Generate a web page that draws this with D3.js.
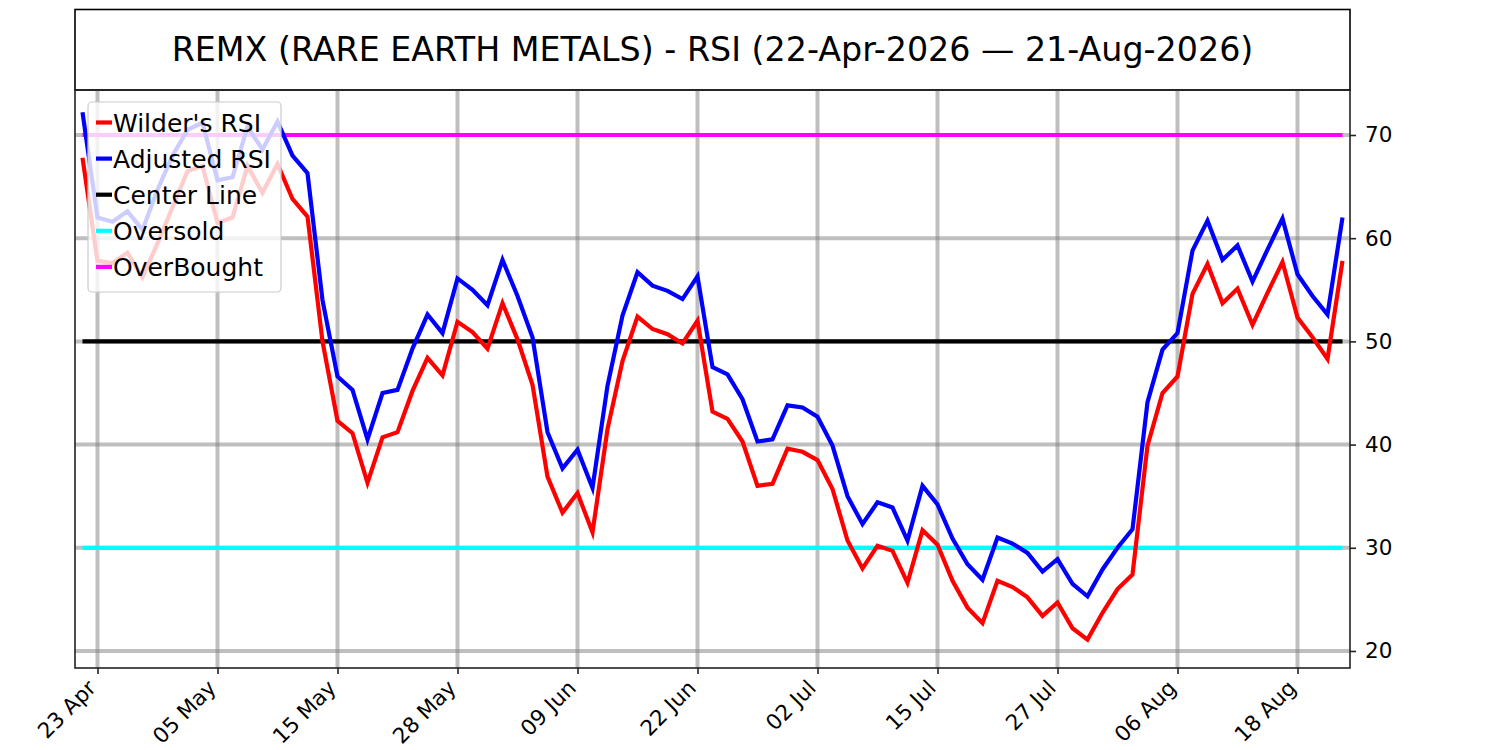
<!DOCTYPE html>
<html>
<head>
<meta charset="utf-8">
<script src="https://cdn.jsdelivr.net/npm/d3@7"></script>
<style>
  body { margin: 0; background: #fff; }
  svg { font-family: "DejaVu Sans", sans-serif; }
</style>
</head>
<body>
<svg id="chart" width="1500" height="750"></svg>
<script>
// ======== Data ========
const titleText = 'REMX (RARE EARTH METALS) - RSI (22-Apr-2026 \u2014 21-Aug-2026)';

// trading day index -> tick label
const tickIndex = [1, 9, 17, 25, 33, 41, 49, 57, 65, 73, 81];
const tickLabels = ['23 Apr', '05 May', '15 May', '28 May', '09 Jun', '22 Jun',
    '02 Jul', '15 Jul', '27 Jul', '06 Aug', '18 Aug'];
const yTicks = [20, 30, 40, 50, 60, 70];

const wildersRsi = [67.8, 57.8, 57.6, 58.6, 56.2, 59.5, 63.0, 66.5, 67.0, 61.5,
    62.0, 67.0, 64.4, 67.2, 63.8, 62.1, 50.0, 42.3, 41.1, 36.3,
    40.7, 41.2, 45.2, 48.4, 46.7, 51.9, 50.9, 49.3, 53.7, 50.2,
    45.8, 36.9, 33.4, 35.3, 31.5, 41.5, 48.1, 52.4, 51.2, 50.7,
    49.8, 52.0, 43.2, 42.5, 40.3, 36.0, 36.2, 39.6, 39.3, 38.5,
    35.7, 30.7, 28.0, 30.2, 29.7, 26.6, 31.7, 30.3, 26.8, 24.2,
    22.7, 26.8, 26.2, 25.2, 23.4, 24.7, 22.2, 21.1, 23.7, 26.0,
    27.4, 39.9, 45.0, 46.6, 54.6, 57.5, 53.7, 55.1, 51.6, 54.7,
    57.7, 52.3, 50.4, 48.3, 57.8];

const adjustedRsi = [72.2, 62.0, 61.6, 62.6, 60.8, 64.7, 68.0, 70.5, 71.2, 65.6,
    65.9, 70.8, 68.6, 71.3, 68.0, 66.3, 54.0, 46.6, 45.3, 40.5,
    45.0, 45.3, 49.3, 52.6, 50.8, 56.1, 55.0, 53.5, 57.9, 54.4,
    50.4, 41.2, 37.7, 39.5, 35.8, 45.7, 52.5, 56.7, 55.4, 54.9,
    54.1, 56.3, 47.5, 46.8, 44.4, 40.3, 40.5, 43.8, 43.6, 42.7,
    39.9, 35.0, 32.3, 34.4, 33.9, 30.7, 36.0, 34.2, 30.9, 28.4,
    26.9, 31.0, 30.4, 29.5, 27.7, 28.9, 26.5, 25.3, 27.9, 30.0,
    31.8, 44.1, 49.2, 50.8, 58.8, 61.7, 57.9, 59.3, 55.8, 58.9,
    61.9, 56.5, 54.4, 52.6, 62.0];

const levelNames = ['Center Line', 'Oversold', 'OverBought'];
const levelValues = [50, 30, 70];
const levelColors = ['black', 'cyan', 'magenta'];

// ======== Layout ========
const svg = d3.select('#chart');
const plotLeft = 75, plotRight = 1350, plotTop = 90, plotBottom = 668;
const n = wildersRsi.length;
const lw = 4.2;

const x = d3.scaleLinear()
    .domain([-0.5, n - 0.5])
    .range([plotLeft, plotRight]);

const y = d3.scaleLinear()
    .domain([18.35, 74.36])
    .range([plotBottom, plotTop]);

// title box
svg.append('rect')
    .attr('x', plotLeft).attr('y', 9.5)
    .attr('width', plotRight - plotLeft).attr('height', plotTop - 9.5)
    .attr('fill', 'white').attr('stroke', 'black').attr('stroke-width', 1.6);
svg.append('text')
    .attr('x', (plotLeft + plotRight) / 2).attr('y', 61)
    .attr('text-anchor', 'middle')
    .attr('font-size', 33.3)
    .text(titleText);

// ======== Grid ========
const grid = svg.append('g')
    .attr('stroke', '#808080')
    .attr('stroke-opacity', 0.5)
    .attr('stroke-width', 4);
grid.selectAll('.vg').data(tickIndex).enter().append('line')
    .attr('x1', d => x(d)).attr('x2', d => x(d))
    .attr('y1', plotTop).attr('y2', plotBottom);
grid.selectAll('.hg').data(yTicks).enter().append('line')
    .attr('x1', plotLeft).attr('x2', plotRight)
    .attr('y1', d => y(d)).attr('y2', d => y(d));

// ======== Lines ========
const levels = svg.append('g');
levelValues.forEach(function (v, i) {
    levels.append('line')
        .attr('x1', x(0)).attr('x2', x(n - 1))
        .attr('y1', y(v)).attr('y2', y(v))
        .attr('stroke', levelColors[i])
        .attr('stroke-width', lw);
});

const line = d3.line()
    .x((d, i) => x(i))
    .y(d => y(d));

svg.append('path')
    .datum(wildersRsi)
    .attr('d', line)
    .attr('fill', 'none').attr('stroke', 'red')
    .attr('stroke-width', lw).attr('stroke-linejoin', 'miter');
svg.append('path')
    .datum(adjustedRsi)
    .attr('d', line)
    .attr('fill', 'none').attr('stroke', 'blue')
    .attr('stroke-width', lw).attr('stroke-linejoin', 'miter');

// ======== Axes ========
const xAxis = svg.append('g')
    .attr('transform', 'translate(0,' + plotBottom + ')')
    .call(d3.axisBottom(x)
        .tickValues(tickIndex)
        .tickFormat((d, i) => tickLabels[i])
        .tickSize(6)
        .tickSizeOuter(0));
xAxis.select('.domain').remove();
xAxis.selectAll('.tick line').attr('stroke', '#222').attr('stroke-width', 1.6);
xAxis.selectAll('.tick text')
    .attr('font-size', 21.5)
    .attr('font-family', 'DejaVu Sans')
    .attr('fill', 'black')
    .attr('text-anchor', 'end')
    .attr('dy', '0.35em')
    .attr('y', 0)
    .attr('transform', 'translate(-6,16) rotate(-45)');

const yAxis = svg.append('g')
    .attr('transform', 'translate(' + plotRight + ',0)')
    .call(d3.axisRight(y)
        .tickValues(yTicks)
        .tickSize(6)
        .tickPadding(9)
        .tickSizeOuter(0));
yAxis.select('.domain').remove();
yAxis.selectAll('.tick line').attr('stroke', '#222').attr('stroke-width', 1.6);
yAxis.selectAll('.tick text')
    .attr('font-size', 21.5)
    .attr('font-family', 'DejaVu Sans')
    .attr('fill', 'black');

// frame
svg.append('rect')
    .attr('x', plotLeft).attr('y', plotTop)
    .attr('width', plotRight - plotLeft).attr('height', plotBottom - plotTop)
    .attr('fill', 'none').attr('stroke', '#222').attr('stroke-width', 1.6);

// ======== Legend ========
const legendNames = ["Wilder's RSI", 'Adjusted RSI'].concat(levelNames);
const legendColors = ['red', 'blue'].concat(levelColors);

const legend = svg.append('g');
legend.append('rect')
    .attr('x', 88).attr('y', 102)
    .attr('width', 193).attr('height', 190)
    .attr('rx', 4)
    .attr('fill', 'white').attr('fill-opacity', 0.8)
    .attr('stroke', '#cccccc').attr('stroke-width', 1.2);

const rows = legend.selectAll('g.row')
    .data(legendNames)
    .enter().append('g')
    .attr('transform', (d, i) => 'translate(0,' + (122.5 + i * 36.1) + ')');
rows.append('line')
    .attr('x1', 96).attr('x2', 112)
    .attr('y1', 0).attr('y2', 0)
    .attr('stroke', (d, i) => legendColors[i])
    .attr('stroke-width', lw);
rows.append('text')
    .attr('x', 113).attr('y', 0)
    .attr('dy', '0.36em')
    .attr('font-size', 25)
    .text(d => d);
</script>
</body>
</html>
